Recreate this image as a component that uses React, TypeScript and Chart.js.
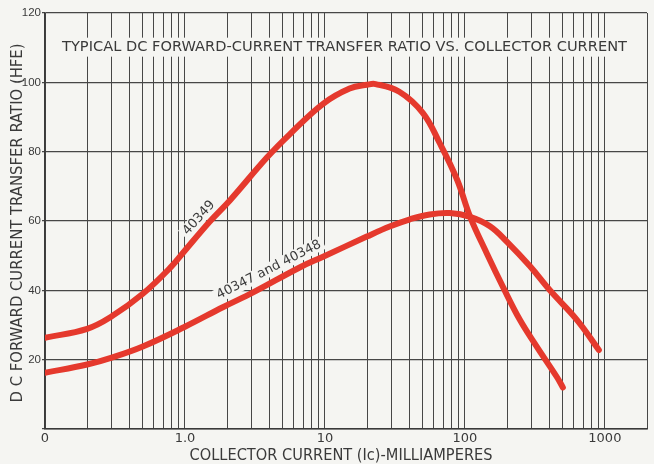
import React, { useEffect, useRef } from 'react';
import { Chart, registerables } from 'chart.js';

Chart.register(...registerables);

const titleText = 'TYPICAL DC FORWARD-CURRENT TRANSFER RATIO VS. COLLECTOR CURRENT';
const xAxisTitle = 'COLLECTOR CURRENT (Ic)-MILLIAMPERES';
const yAxisTitle = 'D C FORWARD CURRENT TRANSFER RATIO (HFE)';

// Curve 40349 (collector current mA, hFE)
const current40349 = [0.1, 0.2, 0.3, 0.5, 0.78, 1.0, 1.5, 2.1, 3.85, 5.6, 9.7, 15, 20, 23, 34, 50, 66, 88, 109, 144, 187, 247, 327, 454, 501];
const hfe40349 = [26.3, 28.9, 32.5, 39, 46.4, 51.5, 59.8, 66, 78.3, 85, 93.8, 98.2, 99.3, 99.5, 97.3, 91.2, 82.5, 71.9, 61.2, 50.5, 41, 31.5, 23.7, 15, 12];

// Curve 40347 and 40348
const current40347 = [0.1, 0.2, 0.3, 0.5, 1.0, 1.88, 3.07, 6.6, 9.7, 19.9, 29, 40.5, 56, 78, 109, 151, 200, 291, 405, 631, 906];
const hfe40347 = [16.2, 18.6, 20.6, 23.8, 29.5, 35.2, 39.4, 46.6, 49.7, 55.5, 58.4, 60.5, 61.9, 62.3, 61.2, 58.5, 54, 47, 40, 31.5, 22.8];

// Axis ticks
const xGridDecades = [0.1, 1, 10, 100, 1000];
const xGridSteps = [1, 2, 3, 4, 5, 6, 7, 8, 9];
const xMin = 0.1;
const xMax = 2000;
const xTickValues = [0.1, 1, 10, 100, 1000];
const xTickLabels = ['0', '1.0', '10', '100', '1000'];
const yMin = 0;
const yMax = 120;
const yStep = 20;

// Curve labels
const curveLabelTexts = ['40349', '40347 and 40348'];
const curveLabelX = [1.26, 3.98];
const curveLabelY = [60.9, 45.9];
const curveLabelAngles = [-48, -27];

const BG = '#f5f5f2';
const INK = '#3a3a3a';
const GRID = '#474747';
const RED = '#e5392d';

const xGridValues: number[] = [];
xGridDecades.forEach((d) => xGridSteps.forEach((s) => {
  const v = d * s;
  if (v <= xMax + 1e-9) xGridValues.push(v);
}));
if (!xGridValues.includes(xMax)) xGridValues.push(xMax);

function drawFitted(ctx: CanvasRenderingContext2D, text: string, cx: number, cy: number, width: number, font: string, angle = 0) {
  ctx.save();
  ctx.font = font;
  const w = ctx.measureText(text).width;
  ctx.translate(cx, cy);
  ctx.rotate(angle);
  ctx.scale(width / w, 1);
  ctx.textAlign = 'center';
  ctx.textBaseline = 'middle';
  ctx.fillStyle = INK;
  ctx.fillText(text, 0, 0);
  ctx.restore();
}

const decorPlugin = {
  id: 'decor',
  beforeDraw(chart: any) {
    const { ctx, width, height } = chart;
    ctx.save();
    ctx.fillStyle = BG;
    ctx.fillRect(0, 0, width, height);
    ctx.restore();
  },
  beforeDatasetsDraw(chart: any) {
    const { ctx, scales, chartArea } = chart;
    const cx = (chartArea.left + chartArea.right) / 2 - 1.5;
    const cy = scales.y.getPixelForValue(110);
    ctx.save();
    ctx.fillStyle = BG;
    ctx.fillRect(cx - 288, cy - 10, 576, 19);
    ctx.restore();
    drawFitted(ctx, titleText, cx, cy, 565, '14px "DejaVu Sans"');
    curveLabelTexts.forEach((t, i) => {
      const px = scales.x.getPixelForValue(curveLabelX[i]);
      const py = scales.y.getPixelForValue(curveLabelY[i]);
      const a = (curveLabelAngles[i] * Math.PI) / 180;
      ctx.save();
      ctx.font = '13px "DejaVu Sans"';
      const w = ctx.measureText(t).width;
      ctx.translate(px, py);
      ctx.rotate(a);
      ctx.fillStyle = BG;
      ctx.fillRect(-w / 2 - 3, -7, w + 6, 14);
      ctx.fillStyle = INK;
      ctx.textAlign = 'center';
      ctx.textBaseline = 'middle';
      ctx.fillText(t, 0, 0);
      ctx.restore();
    });
  },
  afterDraw(chart: any) {
    const { ctx, chartArea } = chart;
    drawFitted(ctx, xAxisTitle, 341, 456, 303, '15px "DejaVu Sans"');
    drawFitted(ctx, yAxisTitle, 18, (chartArea.top + chartArea.bottom) / 2 + 2, 359, '15px "DejaVu Sans"', -Math.PI / 2);
  },
};

export default function App() {
  const ref = useRef<HTMLCanvasElement | null>(null);
  useEffect(() => {
    if (!ref.current) return;
    const chart = new Chart(ref.current, {
      type: 'line',
      data: {
        datasets: [
          {
            label: '40349',
            data: current40349.map((x, i) => ({ x, y: hfe40349[i] })),
            borderColor: RED,
            borderWidth: 6,
            pointRadius: 0,
            tension: 0.4,
            borderCapStyle: 'round',
            borderJoinStyle: 'round',
            fill: false,
          },
          {
            label: '40347 and 40348',
            data: current40347.map((x, i) => ({ x, y: hfe40347[i] })),
            borderColor: RED,
            borderWidth: 6,
            pointRadius: 0,
            tension: 0.4,
            borderCapStyle: 'round',
            borderJoinStyle: 'round',
            fill: false,
          },
        ],
      },
      options: {
        responsive: false,
        animation: false,
        layout: { padding: { top: 13, right: 7, left: 0, bottom: 0 } },
        plugins: { legend: { display: false }, title: { display: false }, tooltip: { enabled: false } },
        scales: {
          x: {
            type: 'logarithmic',
            min: xMin,
            max: xMax,
            afterBuildTicks: (s: any) => {
              s.ticks = xGridValues.map((v) => ({ value: v }));
            },
            afterFit: (s: any) => {
              s.height = 35;
            },
            ticks: {
              autoSkip: false,
              maxRotation: 0,
              minRotation: 0,
              padding: 2,
              color: INK,
              font: { family: 'DejaVu Sans', size: 13 },
              callback: (v: any) => {
                const idx = xTickValues.findIndex((t) => Math.abs(t - v) < 1e-9);
                return idx >= 0 ? xTickLabels[idx] : '';
              },
            },
            grid: { color: GRID, lineWidth: 1, drawTicks: false },
            border: { display: true, color: INK, width: 1.5 },
          },
          y: {
            type: 'linear',
            min: yMin,
            max: yMax,
            afterFit: (s: any) => {
              s.width = 45;
            },
            ticks: {
              stepSize: yStep,
              padding: 1,
              color: INK,
              font: { family: 'Liberation Sans', size: 11.5 },
              callback: (v: any) => (v === 0 ? '' : String(v)),
            },
            grid: { color: GRID, lineWidth: 1.2, tickLength: 3 },
            border: { display: true, color: INK, width: 1.5 },
          },
        },
      },
      plugins: [decorPlugin],
    } as any);
    return () => chart.destroy();
  }, []);
  return (
    <div style={{ position: 'fixed', left: 0, top: 0, width: 654, height: 464, background: BG }}>
      <canvas ref={ref} width={654} height={464} style={{ display: 'block' }} />
    </div>
  );
}
